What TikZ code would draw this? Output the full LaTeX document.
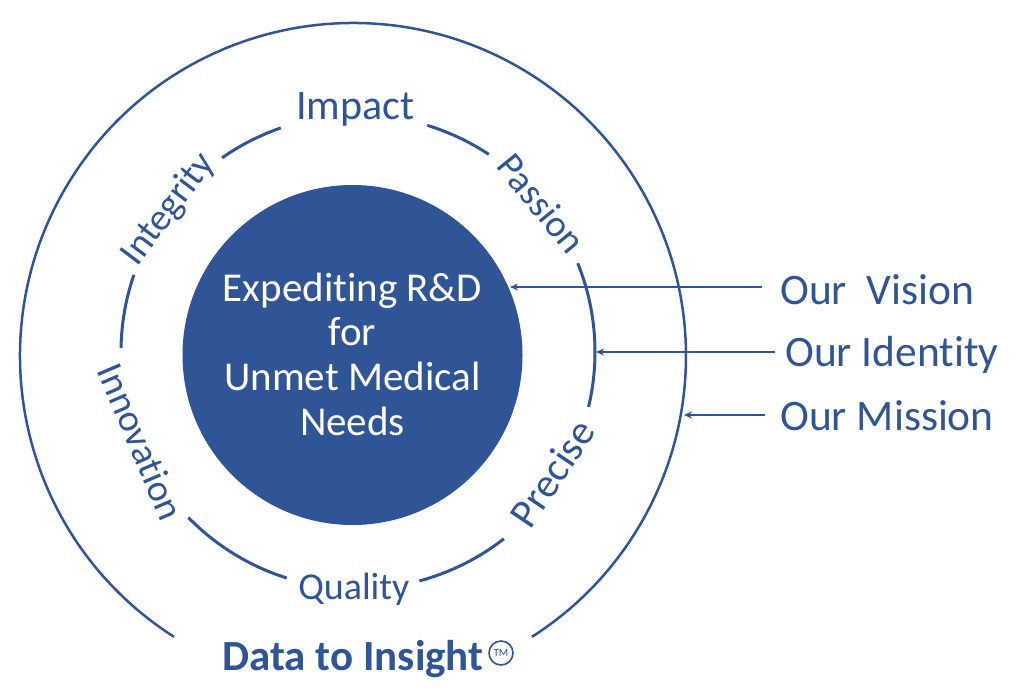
\documentclass[tikz,border=0pt]{standalone}
\usepackage{fontspec}
\setmainfont{Carlito}[Ligatures={CommonOff}]
\usetikzlibrary{arrows.meta}
\definecolor{navy}{RGB}{47,85,151}
\begin{document}
\begin{tikzpicture}[x=1pt,y=-1pt,
  ringlab/.style={text=navy,font=\fontsize{38}{40}\selectfont,inner sep=0pt,anchor=center},
  sidelab/.style={text=navy,font=\fontsize{43.5}{45}\selectfont,inner sep=0pt,anchor=west},
  arr/.style={draw=navy,line width=2pt,-{Stealth[length=8pt,width=7pt]}},
  ringline/.style={draw=navy,line width=3pt},
  outerline/.style={draw=navy,line width=2.5pt}]
\useasboundingbox[fill=white] (0,0) rectangle (1024,700);
% centres
\coordinate (oc) at (353,356);
\coordinate (rc) at (358,352);
% outer circle with bottom gap
\draw[outerline] (oc) ++(122.5:333) arc[start angle=122.5,end angle=417.5,radius=333];
% middle ring arcs
\foreach \a/\b in {-125/-109,-73/-56.5,-22/13.4,52/75,107.5/135.7,181/199}
  \draw[ringline] (rc) ++(\a:237) arc[start angle=\a,end angle=\b,radius=237];
% ring labels
\node[ringlab,font=\fontsize{42}{44}\selectfont] (impact) at ([shift={(-90.6:243)}]rc) {Impact};
\node[ringlab,rotate=-51] (passion) at ([shift={(-39:236)}]rc) {Passion};
\node[ringlab,rotate=56,font=\fontsize{41}{43}\selectfont] (precise) at ([shift={(32:229)}]rc) {Precise};
\node[ringlab] (quality) at ([shift={(91:237)}]rc) {Quality};
\node[ringlab,rotate=-67] (innovation) at ([shift={(157.5:235)}]rc) {Innovation};
\node[ringlab,rotate=53] (integrity) at ([shift={(-143:237)}]rc) {Integrity};
% core
\node[circle,fill=navy,minimum size=340pt,inner sep=0pt] (core) at (352.5,355) {};
\node[text=white,align=center,font=\fontsize{41}{44.7}\selectfont] (coretext) at (352.5,354)
  {Expediting R\&D\\for\\Unmet Medical\\Needs};
% side labels
\node[sidelab] (vision) at (780,290) {Our\ \ Vision};
\node[sidelab] (identity) at (785,355) {Our Identity};
\node[sidelab] (mission) at (780,416) {Our Mission};
\coordinate (vtip) at (510,287);
\coordinate (itip) at (596,352);
\coordinate (mtip) at (684,415);
\coordinate (vs) at (762,287);
\coordinate (is) at (775,352);
\coordinate (ms) at (765,415);
\draw[arr] (vs) -- (vtip);
\draw[arr] (is) -- (itip);
\draw[arr] (ms) -- (mtip);
% bottom title
\node[text=navy,font=\bfseries\fontsize{43}{45}\selectfont,inner sep=0pt] (title) at (353,659) {Data to Insight};
\node[circle,draw=navy,line width=1.6pt,inner sep=0pt,minimum size=24pt,text=navy,font=\fontsize{11}{11}\selectfont] (tm) at (501,653) {TM};
\end{tikzpicture}
\end{document}
